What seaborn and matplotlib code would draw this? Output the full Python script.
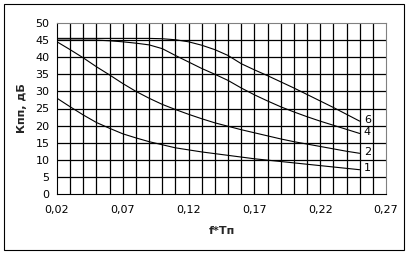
import numpy as np
import pandas as pd
import matplotlib
matplotlib.use("Agg")
import matplotlib.pyplot as plt
import matplotlib.patches as mpatches
from matplotlib.ticker import FixedLocator
import seaborn as sns

# ---- data ----
x_vals = [0.02, 0.03, 0.04, 0.05, 0.06, 0.07, 0.08, 0.09, 0.10, 0.11, 0.12, 0.13,
          0.14, 0.15, 0.16, 0.17, 0.18, 0.19, 0.20, 0.21, 0.22, 0.23, 0.24, 0.25]
curve_1 = [28.0, 25.5, 23.1, 20.9, 19.2, 17.6, 16.4, 15.3, 14.4, 13.5, 12.9, 12.3,
           11.8, 11.3, 10.8, 10.3, 9.9, 9.5, 9.1, 8.7, 8.3, 7.9, 7.5, 7.1]
curve_2 = [44.5, 42.2, 39.8, 37.2, 34.8, 32.3, 30.0, 28.0, 26.2, 24.7, 23.3, 22.0,
           20.8, 19.8, 18.8, 17.9, 17.0, 16.1, 15.3, 14.6, 13.9, 13.2, 12.5, 11.9]
curve_4 = [45.0, 45.0, 45.0, 45.0, 44.8, 44.5, 44.1, 43.6, 42.5, 40.5, 38.6, 36.7,
           35.0, 33.2, 31.0, 29.0, 27.2, 25.5, 24.0, 22.6, 21.3, 20.1, 18.9, 17.7]
curve_6 = [45.5, 45.5, 45.5, 45.5, 45.5, 45.5, 45.5, 45.5, 45.4, 45.1, 44.5, 43.5,
           42.2, 40.5, 38.1, 36.3, 34.6, 32.8, 31.0, 29.1, 27.2, 25.3, 23.3, 21.3]
curve_names = ["1", "2", "4", "6"]
x_ticks = [0.02, 0.07, 0.12, 0.17, 0.22, 0.27]
x_tick_labels = ["0,02", "0,07", "0,12", "0,17", "0,22", "0,27"]
x_grid = [0.03, 0.04, 0.05, 0.06, 0.07, 0.08, 0.09, 0.10, 0.11, 0.12, 0.13, 0.14,
          0.15, 0.16, 0.17, 0.18, 0.19, 0.20, 0.21, 0.22, 0.23, 0.24, 0.25, 0.26]
y_ticks = [0, 5, 10, 15, 20, 25, 30, 35, 40, 45, 50]
x_label = "f*Tп"
y_label = "Кпп, дБ"

series = {"1": curve_1, "2": curve_2, "4": curve_4, "6": curve_6}
df = pd.DataFrame(
    [(x, y, name) for name in curve_names for x, y in zip(x_vals, series[name])],
    columns=["x", "y", "curve"],
)

sns.set_style("white")
plt.rcParams["font.family"] = ["DejaVu Sans"]

fig = plt.figure(figsize=(4.12, 2.54), dpi=100)
ax = fig.add_axes([57 / 412, 1 - 194 / 254, (386 - 57) / 412, (194 - 23) / 254])

# outer frame
fig.patches.append(mpatches.Rectangle((4 / 412, 1 - 250 / 254), 400 / 412, 246 / 254,
                                      transform=fig.transFigure, fill=False,
                                      edgecolor="black", linewidth=0.8))

sns.lineplot(data=df, x="x", y="y", hue="curve", palette={n: "black" for n in curve_names},
             estimator=None, legend=False, linewidth=0.8, ax=ax, zorder=3)

ax.set_xlim(0.02, 0.27)
ax.set_ylim(0, 50)
ax.xaxis.remove_overlapping_locs = False
ax.xaxis.set_major_locator(FixedLocator(x_ticks))
ax.set_xticklabels(x_tick_labels)
ax.xaxis.set_minor_locator(FixedLocator(x_grid))
ax.yaxis.set_major_locator(FixedLocator(y_ticks))

ax.grid(False, which="major", axis="x")
ax.grid(True, which="major", axis="y", color="black", linewidth=0.9)
ax.grid(True, which="minor", axis="x", color="black", linewidth=0.9)
ax.set_axisbelow(True)
ax.get_ygridlines()[-1].set_visible(False)
ax.get_ygridlines()[0].set_visible(False)

ax.tick_params(axis="both", which="major", direction="out", length=4, width=0.8,
               color="black", labelsize=8, labelcolor="black")
ax.tick_params(axis="x", which="major", pad=4)
ax.tick_params(axis="y", which="major", pad=1.5)
ax.tick_params(axis="both", which="minor", length=0)

for side in ["left", "bottom"]:
    ax.spines[side].set_color("black")
    ax.spines[side].set_linewidth(0.8)
for side in ["top", "right"]:
    ax.spines[side].set_color("#808080")
    ax.spines[side].set_linewidth(0.8)
    ax.spines[side].set_visible(True)

ax.set_xlabel(x_label, fontsize=8, fontweight="bold", labelpad=8)
ax.set_ylabel(y_label, fontsize=8, fontweight="bold", labelpad=6)

for name in curve_names:
    ax.annotate(name, xy=(x_vals[-1], series[name][-1]), xytext=(3, 1),
                textcoords="offset points", ha="left", va="center", fontsize=8,
                color="black", zorder=4)

fig.savefig("out.png", dpi=100)
